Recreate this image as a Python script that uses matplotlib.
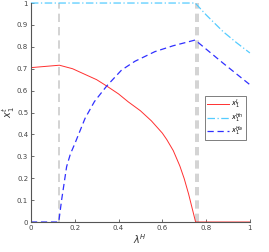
import numpy as np
import matplotlib
matplotlib.use("Agg")
import matplotlib.pyplot as plt

# red curve x_1^L
lam_L = [0.0, 0.13, 0.19, 0.247, 0.30, 0.346, 0.40, 0.444, 0.50, 0.55, 0.60, 0.62,
         0.65, 0.68, 0.70, 0.72, 0.735, 0.752, 1.0]
x_L = [0.705, 0.716, 0.700, 0.674, 0.650, 0.621, 0.585, 0.549, 0.508, 0.462, 0.406, 0.377,
       0.326, 0.256, 0.198, 0.128, 0.068, 0.0, 0.0]

# cyan dash-dot x_1^Hn
lam_Hn = [0.0, 0.75, 0.80, 0.878, 0.94, 1.0]
x_Hn = [1.0, 1.0, 0.946, 0.869, 0.818, 0.772]

# blue dashed x_1^Ha
lam_Ha = [0.0, 0.127, 0.14, 0.163, 0.18, 0.201, 0.247, 0.29, 0.346, 0.414, 0.475,
          0.566, 0.65, 0.75, 0.878, 1.0]
x_Ha = [0.0, 0.0, 0.10, 0.253, 0.31, 0.359, 0.473, 0.55, 0.621, 0.694, 0.734,
        0.778, 0.805, 0.831, 0.725, 0.627]

vlines = [0.13, 0.753, 0.764]

fig = plt.figure(figsize=(2.69, 2.52), dpi=100)
ax = fig.add_axes([0.115, 0.119, 0.814, 0.869])

for v in vlines:
    ax.axvline(v, color='#cccccc', linestyle=(0, (5, 3)), linewidth=1.2, zorder=1)

ax.plot(lam_L, x_L, color='#ff3030', linewidth=0.7, label=r'$x_1^L$')
ax.plot(lam_Hn, x_Hn, color='#55ccff', linewidth=0.9, linestyle=(0, (6, 2, 1, 2)),
        label=r'$x_1^{Hn}$', clip_on=False)
ax.plot(lam_Ha, x_Ha, color='#3030ff', linewidth=0.9, linestyle=(0, (5, 3)), label=r'$x_1^{Ha}$')

ax.set_xlim(0, 1)
ax.set_ylim(0, 1)
ax.set_xticks(np.arange(0, 1.01, 0.2))
ax.set_xticklabels(['0', '0.2', '0.4', '0.6', '0.8', '1'])
ax.set_yticks(np.arange(0, 1.01, 0.1))
ax.set_yticklabels(['0', '0.1', '0.2', '0.3', '0.4', '0.5', '0.6', '0.7', '0.8', '0.9', '1'])
ax.tick_params(direction='in', length=2, width=0.6, labelsize=5, colors='#555555', pad=2)
ax.tick_params(labelcolor='#444444')
for s in ['top', 'right']:
    ax.spines[s].set_visible(False)
for s in ['left', 'bottom']:
    ax.spines[s].set_color('#555555')
    ax.spines[s].set_linewidth(0.8)

ax.set_xlabel(r'$\lambda^H$', fontsize=7, color='#333333', labelpad=1)
ax.set_ylabel(r'$x_1^t$', fontsize=7, color='#333333')
ax.yaxis.set_label_coords(-0.065, 0.5)

leg = ax.legend(loc='upper left', bbox_to_anchor=(0.795, 0.575), fontsize=4.8, frameon=True,
                fancybox=False, edgecolor='#444444', handlelength=3.4, borderpad=0.25,
                labelspacing=0.05, handletextpad=0.3, borderaxespad=0)
leg.get_frame().set_linewidth(0.6)

fig.savefig('out.png', dpi=100)
